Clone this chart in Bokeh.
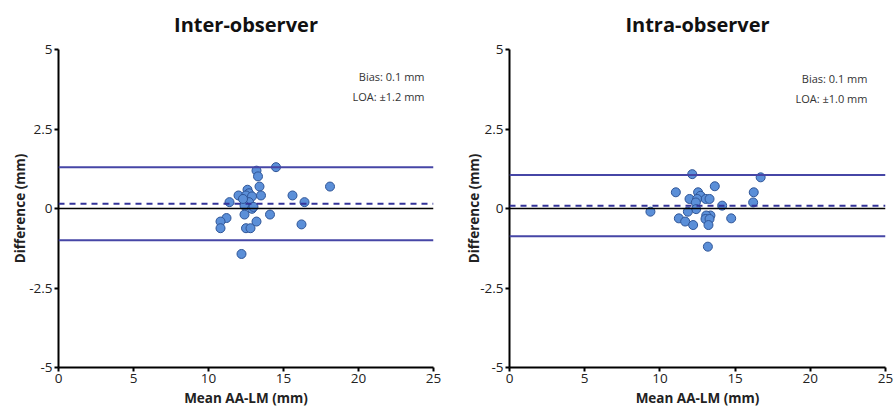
from bokeh.plotting import figure
from bokeh.models import Span, Label, FixedTicker, Range1d
from bokeh.layouts import row
from bokeh.embed import file_html
from bokeh.resources import INLINE

# ---- data ----
inter_x = [14.5, 13.2, 13.3, 13.4, 18.1, 12.0, 12.6, 12.7, 12.5, 12.9, 13.5, 15.6,
           11.4, 12.7, 16.4, 12.4, 12.9, 12.4, 14.1, 11.2, 10.8, 13.2, 10.8, 12.5,
           12.8, 16.2, 12.2, 12.3, 13.0]
inter_y = [1.30, 1.19, 1.01, 0.69, 0.69, 0.41, 0.59, 0.48, 0.41, 0.38, 0.41, 0.41,
           0.20, 0.20, 0.20, 0.09, -0.01, -0.19, -0.19, -0.30, -0.41, -0.41, -0.62, -0.62,
           -0.62, -0.50, -1.43, 0.30, 0.05]

intra_x = [12.15, 16.7, 13.65, 11.06, 12.54, 16.24, 12.7, 11.97, 12.48, 13.05, 13.3, 12.39,
           16.2, 14.14, 12.41, 9.37, 11.86, 13.36, 13.08, 11.26, 14.74, 13.03, 13.3, 11.68,
           12.21, 13.23, 13.19]
intra_y = [1.08, 0.98, 0.70, 0.51, 0.51, 0.51, 0.40, 0.30, 0.30, 0.30, 0.30, 0.19,
           0.19, 0.09, -0.02, -0.10, -0.10, -0.22, -0.22, -0.31, -0.31, -0.33, -0.33, -0.41,
           -0.52, -0.52, -1.20]

titles = ["Inter-observer", "Intra-observer"]
bias_values = [0.15, 0.09]
upper_loa = [1.30, 1.05]
lower_loa = [-1.00, -0.87]
bias_text = ["Bias: 0.1 mm", "Bias: 0.1 mm"]
loa_text = ["LOA: \u00b11.2 mm", "LOA: \u00b11.0 mm"]
x_ticks = [0, 5, 10, 15, 20, 25]
y_ticks = [-5, -2.5, 0, 2.5, 5]
y_tick_labels = ["-5", "-2.5", "0", "2.5", "5"]
x_label = "Mean AA-LM (mm)"
y_label = "Difference (mm)"

FONT = "Open Sans"
LOA_COLOR = "#4646a6"
BIAS_COLOR = "#333399"

# layout constants (per panel)
BORDER_L = [58, 61]
BORDER_R = [15, 11]
Y_LABEL_STANDOFF = [-3, -6]
TEXT_X = [24.4, 23.8]
BIAS_TEXT_Y = [4.15, 4.09]
LOA_TEXT_Y = [3.52, 3.46]


def make_panel(i, xs, ys):
    p = figure(width=448, height=414, output_backend="svg", toolbar_location=None,
               x_range=Range1d(0, 25), y_range=Range1d(-5, 5),
               min_border_left=BORDER_L[i], min_border_right=BORDER_R[i],
               min_border_top=49, min_border_bottom=47)
    p.title.text = titles[i]
    p.title.text_font = FONT
    p.title.text_font_size = "20px"
    p.title.text_font_style = "bold"
    p.title.align = "center"
    p.title.vertical_align = "top"
    p.title.text_color = "#111111"
    p.title.standoff = 19
    p.outline_line_color = None
    p.grid.visible = False

    for ax in (p.xaxis[0], p.yaxis[0]):
        ax.axis_line_width = 2
        ax.axis_line_color = "black"
        ax.major_tick_line_width = 2
        ax.major_tick_line_color = "black"
        ax.major_tick_out = 4
        ax.major_tick_in = 0
        ax.minor_tick_line_color = None
        ax.major_label_text_font = FONT
        ax.major_label_text_font_size = "13.5px"
        ax.major_label_text_color = "#222222"
        ax.axis_label_text_font = FONT
        ax.axis_label_text_font_size = "13.5px"
        ax.axis_label_text_font_style = "bold"
        ax.axis_label_text_color = "#222222"
        ax.major_label_standoff = 2

    p.xaxis.axis_label_standoff = 3
    p.yaxis.axis_label_standoff = Y_LABEL_STANDOFF[i]

    p.xaxis.ticker = FixedTicker(ticks=x_ticks)
    p.yaxis.ticker = FixedTicker(ticks=y_ticks)
    p.yaxis.major_label_overrides = {t: s for t, s in zip(y_ticks, y_tick_labels)}
    p.xaxis.axis_label = x_label
    p.yaxis.axis_label = y_label

    p.add_layout(Span(location=0, dimension="width", line_color="black", line_width=1.6))
    p.add_layout(Span(location=upper_loa[i], dimension="width", line_color=LOA_COLOR, line_width=2))
    p.add_layout(Span(location=lower_loa[i], dimension="width", line_color=LOA_COLOR, line_width=2))
    p.add_layout(Span(location=bias_values[i], dimension="width", line_color=BIAS_COLOR,
                      line_width=2, line_dash="6 5"))

    p.scatter(xs, ys, size=9, fill_color="#5b8fd8", line_color="#2f5597", line_width=1)

    p.add_layout(Label(x=TEXT_X[i], y=BIAS_TEXT_Y[i], text=bias_text[i], text_align="right",
                       text_baseline="middle", text_font=FONT, text_font_size="11px",
                       text_color="#333333"))
    p.add_layout(Label(x=TEXT_X[i], y=LOA_TEXT_Y[i], text=loa_text[i], text_align="right",
                       text_baseline="middle", text_font=FONT, text_font_size="11px",
                       text_color="#333333"))
    return p


p1 = make_panel(0, inter_x, inter_y)
p2 = make_panel(1, intra_x, intra_y)
layout = row(p1, p2)

open("out.html", "w").write(file_html(layout, INLINE))
